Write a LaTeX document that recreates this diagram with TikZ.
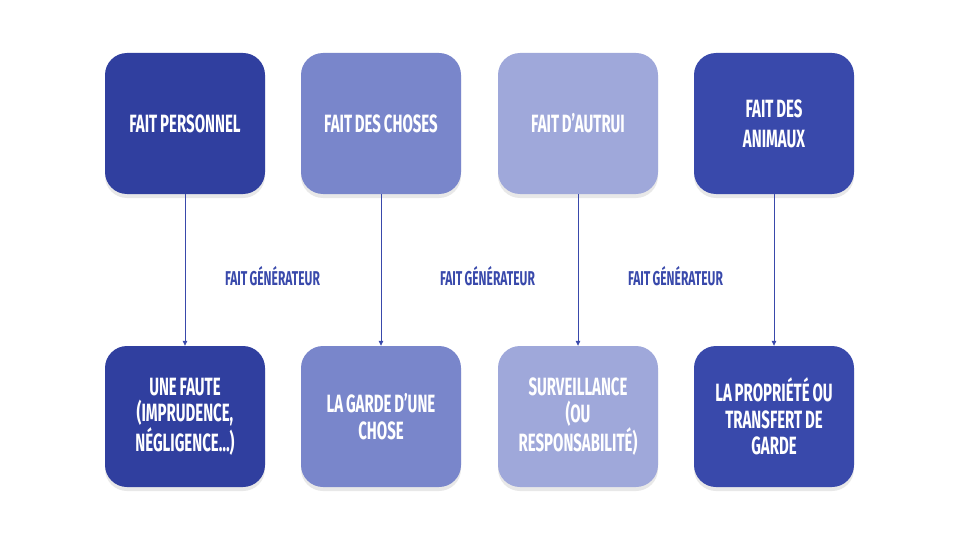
\documentclass[tikz,border=0pt]{standalone}
\usepackage{fontspec}
\setmainfont{Fira Sans}[FakeStretch=0.6,WordSpace=0.8]
\usetikzlibrary{arrows.meta,shadows}

\definecolor{bleuA}{HTML}{303F9F}
\definecolor{bleuB}{HTML}{7986CB}
\definecolor{bleuC}{HTML}{9FA8DA}
\definecolor{bleuD}{HTML}{3949AB}

\begin{document}
\begin{tikzpicture}[x=1pt,y=-1pt,
  boite/.style={rectangle,rounded corners=22pt,minimum width=160pt,minimum height=141pt,
    align=center,text=white,
    font=\bfseries\fontsize{25}{26.7}\selectfont,
    drop shadow={opacity=0.18,shadow xshift=0pt,shadow yshift=-4pt}},
  fleche/.style={bleuD,line width=0.8pt,-{Triangle[length=5pt,width=4.5pt]}},
  etiq/.style={text=bleuD,font=\bfseries\fontsize{20}{22}\selectfont}]
\useasboundingbox (0,0) rectangle (960,540);
\node[boite,fill=bleuA] (persoH) at (185,123.5) {FAIT PERSONNEL};
\node[boite,fill=bleuB] (chosesH) at (381,123.5) {FAIT DES CHOSES};
\node[boite,fill=bleuC] (autruiH) at (578,123.5) {FAIT D’AUTRUI};
\node[boite,fill=bleuD] (animH) at (774,123.5) {FAIT DES\\[3pt]ANIMAUX};
\node[boite,fill=bleuA] (persoB) at (185,416.5) {UNE FAUTE\\(IMPRUDENCE,\\NÉGLIGENCE…)};
\node[boite,fill=bleuB] (chosesB) at (381,416.5) {LA GARDE D’UNE\\CHOSE};
\node[boite,fill=bleuC] (autruiB) at (578,416.5) {SURVEILLANCE\\(OU\\RESPONSABILITÉ)};
\node[boite,fill=bleuD] (animB) at (774,416.5) {LA PROPRIÉTÉ OU\\TRANSFERT DE\\GARDE};
\draw[fleche] (persoH) -- (persoB);
\draw[fleche] (chosesH) -- (chosesB);
\draw[fleche] (autruiH) -- (autruiB);
\draw[fleche] (animH) -- (animB);
\node[etiq] (gen1) at (272.5,276) {FAIT GÉNÉRATEUR};
\node[etiq] (gen2) at (487.5,276) {FAIT GÉNÉRATEUR};
\node[etiq] (gen3) at (675.5,276) {FAIT GÉNÉRATEUR};
\end{tikzpicture}
\end{document}
